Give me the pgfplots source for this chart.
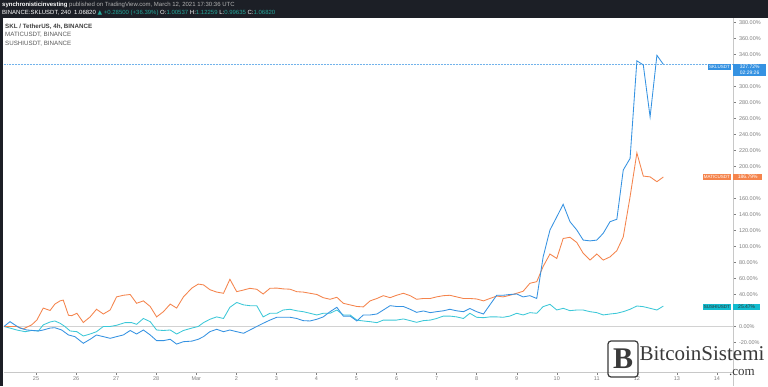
\documentclass[border=0pt]{standalone}
\usepackage{pgfplots}
\pgfplotsset{compat=1.18}
\usepackage{fontspec}
\setmainfont{Liberation Sans}
\newfontfamily\dejavu{DejaVu Sans}
\newfontfamily\wmserif{Liberation Serif}
\definecolor{skl}{HTML}{3592E2}
\definecolor{matic}{HTML}{F5844C}
\definecolor{sushi}{HTML}{3CC8D8}
\definecolor{sushibox}{HTML}{12BCCF}
\definecolor{hdr}{HTML}{1C1F26}
\definecolor{axgray}{HTML}{C8C8C8}
\definecolor{labgray}{HTML}{808080}
\definecolor{hgreen}{HTML}{26A69A}
\definecolor{wm}{HTML}{3A3A3A}

\pgfplotstableread{
d v
24.20 0
24.35 6
24.47 2
24.60 -2
24.77 -4.4
24.93 -5
25.06 -5.6
25.18 -4.4
25.35 -2
25.47 -1.5
25.64 -4.4
25.81 -10.6
25.97 -12.7
26.18 -21
26.35 -16
26.51 -10.6
26.68 -12.7
26.85 -14.8
27.01 -12.7
27.18 -10.6
27.35 -5
27.51 -9.4
27.68 -4.4
27.85 -10.6
28.01 -17.7
28.18 -17.7
28.35 -16
28.51 -22
28.68 -19
28.89 -18.3
29.05 -16
29.18 -12.7
29.34 -6.5
29.51 -3.5
29.68 -6.5
29.84 -4.4
30.01 -6.5
30.18 -8.5
30.34 -4.4
30.51 0
30.67 4
30.84 8
31.01 11.5
31.17 11.5
31.34 11.5
31.51 10
31.67 7.3
31.84 6.9
32.01 9
32.17 12
32.34 18.5
32.51 24
32.67 13
32.84 13
33.01 6.9
33.17 14.4
33.34 14.4
33.51 15.6
33.67 20.6
33.84 26
34.00 25
34.17 25
34.34 21.5
34.50 17.7
34.67 19.4
34.84 17.3
35.00 18.5
35.17 19.6
35.33 21.5
35.50 19.6
35.67 18.5
35.83 22.5
36.00 18.5
36.17 15.6
36.33 27
36.50 39
36.66 39
36.83 40
37.00 40.6
37.16 37
37.33 38.5
37.50 35
37.66 87
37.83 120.6
38.00 137
38.16 152.7
38.33 131
38.50 120.6
38.66 108
38.83 107
39.00 108
39.16 116.5
39.33 131
39.50 134
39.66 195.6
39.83 210
40.00 332
40.16 327
40.33 262
40.50 339
40.66 327.72
}\skltab

\pgfplotstableread{
d v
24.20 0
24.52 0
24.68 -3
24.89 2
25.02 8
25.18 23
25.35 20
25.47 28
25.60 32
25.68 33
25.81 14
25.89 13.5
26.02 16.5
26.18 5
26.35 12
26.51 21.5
26.68 15.6
26.85 20.6
27.01 37
27.18 39
27.35 40
27.51 29
27.68 32
27.85 25
28.01 12
28.18 18.5
28.35 28
28.51 23
28.68 37
28.89 48
29.05 53
29.18 52
29.34 46
29.51 43
29.68 41.5
29.84 59
30.01 43.5
30.18 45.6
30.34 47.7
30.51 46.5
30.67 40.6
30.84 47.7
31.01 48
31.17 47
31.34 46.6
31.51 43.5
31.67 43
31.84 41.5
32.01 40
32.17 36
32.34 34
32.51 36.5
32.67 29
32.84 27
33.01 25
33.17 24.5
33.34 32
33.51 35
33.67 38.5
33.84 36
34.00 39
34.17 41.5
34.34 38.5
34.50 34
34.67 35
34.84 35
35.00 37
35.17 38.5
35.33 39
35.50 37
35.67 35
35.83 35
36.00 34.4
36.17 32
36.33 35
36.50 38
36.66 37
36.83 39
37.00 41.5
37.16 44
37.33 54
37.50 56
37.66 75
37.83 90.6
38.00 85
38.16 110
38.33 111.5
38.50 105
38.66 91.5
38.83 83
39.00 90.6
39.16 83
39.33 87
39.50 94.8
39.66 112
39.83 162
40.00 217
40.16 188
40.33 187
40.50 181
40.66 186.79
}\matictab

\pgfplotstableread{
d v
24.20 0
24.35 -2
24.52 -4.4
24.73 -6.5
24.89 -5
25.06 -5.6
25.18 2
25.35 5.6
25.47 6.9
25.60 4
25.72 0
25.85 -5.6
26.02 -6.5
26.18 -11.9
26.35 -9.4
26.51 -6.5
26.68 0
26.85 0
27.01 1.5
27.22 4.8
27.39 4.8
27.51 2.7
27.68 10
27.85 6
28.01 -4.4
28.18 -5
28.35 -4.4
28.51 -9.4
28.68 -5
28.89 -2
29.05 0
29.18 4.8
29.34 9
29.51 12
29.68 10
29.84 24
30.01 30
30.18 27
30.34 26
30.51 26
30.67 12
30.84 16.5
31.01 16.5
31.17 20.6
31.34 21.5
31.51 19.6
31.67 18.5
31.84 16.5
32.01 14.4
32.17 16.5
32.34 16.5
32.51 20.6
32.67 14.4
32.84 14.4
33.01 8
33.17 6.9
33.34 6
33.51 4.8
33.67 8
33.84 8
34.00 8
34.17 9.4
34.34 7.3
34.50 5.2
34.67 7.3
34.84 8
35.00 10
35.17 13
35.33 13
35.50 12
35.67 10
35.83 16.5
36.00 11.5
36.17 11
36.33 12
36.50 12
36.66 11.5
36.83 13
37.00 16.5
37.16 14.4
37.33 17.3
37.50 16.5
37.66 24.8
37.83 27.7
38.00 20.6
38.16 22.7
38.33 19.8
38.50 20.6
38.66 20.6
38.83 18.5
39.00 17.3
39.16 14.4
39.33 15.6
39.50 16.5
39.66 18.5
39.83 21.5
40.00 25.6
40.16 24.8
40.33 22.7
40.50 20.6
40.66 25.47
}\sushitab

\begin{document}
\begin{tikzpicture}
\path[use as bounding box] (0,0) rectangle (768pt,386pt);
\fill[white] (0,0) rectangle (768pt,386pt);
\fill[hdr] (0,368pt) rectangle (768pt,386pt);
\fill[hdr] (0,0) rectangle (3pt,368pt);

\begin{axis}[
  at={(4pt,14pt)}, anchor=south west,
  width=729pt, height=354pt, scale only axis,
  xmin=24.2, xmax=42.4, ymin=-56.9, ymax=385.6,
  axis x line*=bottom, axis y line*=right,
  axis line style={draw=axgray, line width=0.6pt, -},
  xtick={25,...,42},
  xticklabels={25,26,27,28,Mar,2,3,4,5,6,7,8,9,10,11,12,13,14},
  ytick={-20,0,40,60,80,100,120,140,160,200,220,240,260,280,300,340,360,380},
  yticklabel={\pgfmathprintnumber[fixed,fixed zerofill,precision=2]{\tick}\%},
  /pgf/number format/assume math mode=true,
  tick style={draw=labgray, line width=0.4pt},
  tick align=outside, major tick length=2.5pt,
  ticklabel style={font=\fontsize{5.5}{6}\selectfont, text=labgray},
  xticklabel style={yshift=1pt},
]
\draw[gray!35, line width=0.5pt] (axis cs:24.2,0) -- (axis cs:42.4,0);
\draw[skl!70, densely dotted, line width=0.5pt] (axis cs:24.2,327.72) -- (axis cs:42.4,327.72);
\addplot[sushi, line width=0.85pt] table[x=d,y=v] {\sushitab};
\addplot[matic, line width=0.85pt] table[x=d,y=v] {\matictab};
\addplot[skl, line width=0.85pt] table[x=d,y=v] {\skltab};
\end{axis}

\draw[axgray, line width=0.6pt] (733pt,0) -- (733pt,14pt);

% header
\node[anchor=west, inner sep=0, font=\fontsize{6}{7}\selectfont, text=white] at (2pt,381pt)
  {\textbf{synchronisticinvesting} \textcolor{gray!60}{published on TradingView.com, March 12, 2021 17:30:36 UTC}};
\node[anchor=west, inner sep=0, font=\fontsize{6}{7}\selectfont, text=white] at (2pt,373pt)
  {BINANCE:SKLUSDT, 240 \ 1.06820 \textcolor{hgreen}{{\dejavu ▲} +0.28500 (+36.39\%)} O:\textcolor{hgreen}{1.00537} H:\textcolor{hgreen}{1.12259} L:\textcolor{hgreen}{0.99635} C:\textcolor{hgreen}{1.06820}};

% legend texts
\node[anchor=west, inner sep=0, font=\fontsize{6.2}{7}\selectfont\bfseries, text=black!75] at (5pt,359pt) {SKL / TetherUS, 4h, BINANCE};
\node[anchor=west, inner sep=0, font=\fontsize{6.2}{7}\selectfont, text=black!65] at (5pt,351pt) {MATICUSDT, BINANCE};
\node[anchor=west, inner sep=0, font=\fontsize{6.2}{7}\selectfont, text=black!65] at (5pt,342pt) {SUSHIUSDT, BINANCE};

% right labels
\node[fill=skl, text=white, anchor=east, inner sep=1pt, font=\fontsize{4.5}{5}\selectfont] at (731pt,319pt) {SKLUSDT};
\node[fill=skl, text=white, anchor=west, inner sep=1pt, minimum width=33pt, align=left, font=\fontsize{5}{6}\selectfont] at (733pt,316pt) {327.72\%\\02:29:26};
\node[fill=matic, text=white, anchor=east, inner sep=1pt, font=\fontsize{4.5}{5}\selectfont] at (731pt,209pt) {MATICUSDT};
\node[fill=matic, text=white, anchor=west, inner sep=1pt, minimum width=29pt, align=left, font=\fontsize{5}{6}\selectfont] at (733pt,209pt) {186.79\%};
\node[fill=sushibox, text=black!80, anchor=east, inner sep=1pt, font=\fontsize{4.5}{5}\selectfont] at (731pt,79pt) {SUSHIUSDT};
\node[fill=sushibox, text=black!80, anchor=west, inner sep=1pt, minimum width=27pt, align=left, font=\fontsize{5}{6}\selectfont] at (733pt,79pt) {25.47\%};

% watermark
\node[text=wm, font=\wmserif\fontsize{21}{22}\selectfont, inner sep=0] at (702pt,32pt) {BitcoinSistemi};
\node[text=wm, font=\wmserif\fontsize{13}{14}\selectfont, inner sep=0] at (742pt,13pt) {.com};
\draw[wm, line width=1.2pt, rounded corners=3pt] (608pt,9pt) rectangle (638pt,45pt);
\node[text=wm, font=\wmserif\bfseries\fontsize{30}{32}\selectfont, inner sep=0] at (623pt,27pt) {B};
\end{tikzpicture}
\end{document}
